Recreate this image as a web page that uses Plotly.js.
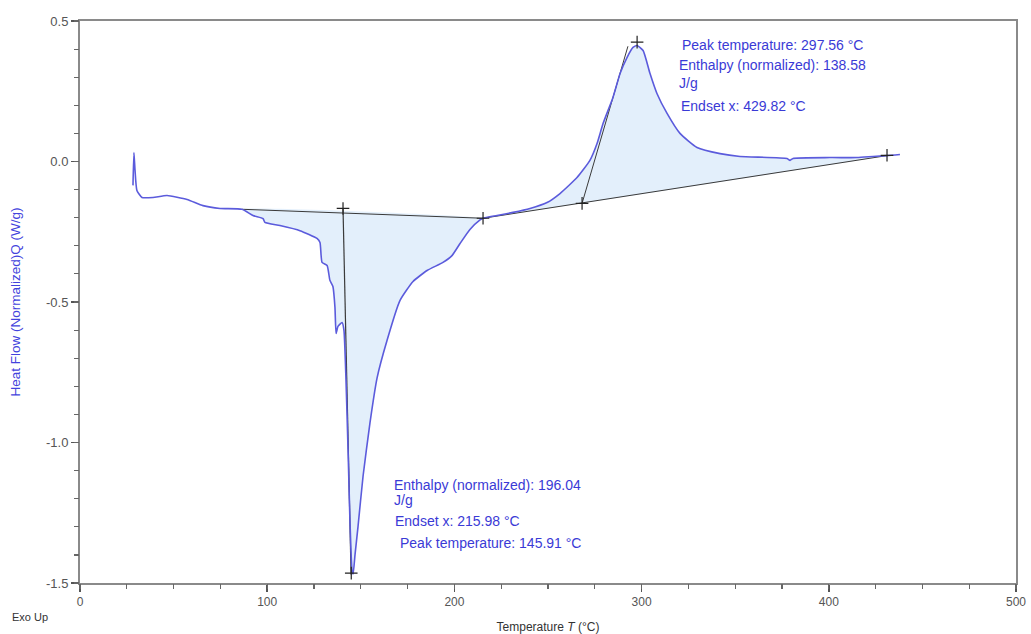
<!DOCTYPE html>
<html>
<head>
<meta charset="utf-8">
<script src="https://cdn.plot.ly/plotly-3.0.1.min.js"></script>
<style>html,body{margin:0;padding:0;background:#fff;}#chart{width:1031px;height:634px;}</style>
</head>
<body>
<div id="chart"></div>
<script>
// DSC curve: temperature (°C) and normalized heat flow (W/g)
const temperature = [28.3, 28.8, 29.4, 30.4, 33.1, 39.0, 46.5, 57.2, 65.7, 74.8, 86.5, 92.4, 97.8, 98.8, 106.8, 117.5, 126.6, 128.2, 129.3, 132.0, 133.5, 135.1, 136.2, 136.8, 137.8, 140.0, 141.0, 142.1, 143.2, 144.2, 145.3, 145.9, 146.9, 148.5, 151.2, 154.9, 158.7, 164.0, 170.9, 177.9, 185.4, 193.9, 198.7, 203.0, 208.3, 213.7, 215.3, 222.8, 231.3, 240.4, 249.5, 256.4, 265.5, 272.4, 276.2, 279.4, 284.7, 288.5, 292.2, 295.4, 297.6, 300.8, 304.5, 308.2, 313.6, 320.5, 329.6, 341.9, 352.6, 377.7, 379.3, 380.9, 400.6, 415.1, 423.6, 431.1, 438.0];
const heatFlow = [-0.085, 0.032, -0.032, -0.103, -0.128, -0.128, -0.121, -0.135, -0.157, -0.167, -0.170, -0.192, -0.203, -0.217, -0.228, -0.246, -0.274, -0.288, -0.359, -0.370, -0.423, -0.445, -0.520, -0.612, -0.587, -0.573, -0.601, -0.779, -1.028, -1.278, -1.455, -1.468, -1.400, -1.300, -1.120, -0.930, -0.770, -0.637, -0.495, -0.427, -0.388, -0.359, -0.335, -0.292, -0.242, -0.208, -0.202, -0.192, -0.181, -0.167, -0.146, -0.114, -0.057, 0.004, 0.064, 0.135, 0.228, 0.313, 0.370, 0.406, 0.413, 0.395, 0.313, 0.242, 0.171, 0.100, 0.050, 0.028, 0.018, 0.011, 0.004, 0.011, 0.014, 0.014, 0.018, 0.021, 0.025];

// Integration baselines (start/end temperature and heat flow)
const endoBaselineT = [86.5, 215.3];
const endoBaselineQ = [-0.170, -0.202];
const exoBaselineT = [215.3, 431.1];
const exoBaselineQ = [-0.202, 0.021];

// Peak construction lines
const endoPeakLineT = [140.5, 144.8];
const endoPeakLineQ = [-0.167, -1.470];
const exoTangentT = [268.2, 292.7];
const exoTangentQ = [-0.149, 0.410];

// Cross markers
const markT = [140.5, 215.3, 268.2, 297.6, 431.1, 144.9];
const markQ = [-0.167, -0.202, -0.149, 0.425, 0.022, -1.465];

// Axis ticks
const xRange = [0, 500];
const yRange = [-1.5, 0.5];
const xTickVals = [0, 100, 200, 300, 400, 500];
const xTickLabels = ['0', '100', '200', '300', '400', '500'];
const yTickVals = [0.5, 0.0, -0.5, -1.0, -1.5];
const yTickLabels = ['0.5', '0.0', '-0.5', '-1.0', '-1.5'];
const xMinorStep = 25;
const yMinorStep = 0.1;

function region(t0, t1) {
  const xs = [], ys = [];
  for (let i = 0; i < temperature.length; i++) {
    if (temperature[i] >= t0 && temperature[i] <= t1) { xs.push(temperature[i]); ys.push(heatFlow[i]); }
  }
  xs.push(xs[0]); ys.push(ys[0]);
  return {xs, ys};
}
const endoR = region(endoBaselineT[0], endoBaselineT[1]);
const exoR = region(exoBaselineT[0], exoBaselineT[1]);

const fillColor = 'rgba(226,238,251,0.95)';
const curveColor = '#5b5bdc';
const textColor = '#3a3ad6';
const lineColor = '#3a3a3a';

const traces = [
  // invisible trace to host the minor-tick overlay axes
  {x: xRange, y: yRange, xaxis: 'x2', yaxis: 'y2', mode: 'markers', marker: {opacity: 0}, hoverinfo: 'skip'},
  {x: endoR.xs, y: endoR.ys, mode: 'lines', fill: 'toself', fillcolor: fillColor, line: {width: 0, shape: 'spline', smoothing: 0.5}, hoverinfo: 'skip'},
  {x: exoR.xs, y: exoR.ys, mode: 'lines', fill: 'toself', fillcolor: fillColor, line: {width: 0, shape: 'spline', smoothing: 0.5}, hoverinfo: 'skip'},
  {x: endoBaselineT, y: endoBaselineQ, mode: 'lines', line: {color: lineColor, width: 1}},
  {x: exoBaselineT, y: exoBaselineQ, mode: 'lines', line: {color: lineColor, width: 1}},
  {x: endoPeakLineT, y: endoPeakLineQ, mode: 'lines', line: {color: lineColor, width: 1.2}},
  {x: exoTangentT, y: exoTangentQ, mode: 'lines', line: {color: lineColor, width: 1}},
  {x: temperature, y: heatFlow, mode: 'lines', line: {color: curveColor, width: 1.6, shape: 'spline', smoothing: 0.5}},
  {x: markT, y: markQ, mode: 'markers', marker: {symbol: 'cross-thin', size: 9, line: {color: '#222', width: 1.2}}}
];

const annFont = {family: 'Liberation Sans, Arial, sans-serif', size: 14, color: textColor};
function ann(text, x, y) {
  return {text: text, x: x, y: y, xref: 'x', yref: 'y', xanchor: 'left', yanchor: 'middle', showarrow: false, font: annFont};
}

const layout = {
  width: 1031, height: 634,
  margin: {l: 80, r: 15, t: 21, b: 51},
  paper_bgcolor: '#fff', plot_bgcolor: '#fff',
  showlegend: false,
  font: {family: 'Liberation Sans, Arial, sans-serif', size: 12, color: '#555'},
  xaxis: {
    range: xRange, tickmode: 'array', tickvals: xTickVals, ticktext: xTickLabels,
    showgrid: false, zeroline: false, showline: true, mirror: true,
    linecolor: '#8a8a8a', linewidth: 2, ticks: 'outside', ticklen: 7, tickcolor: '#555', tickwidth: 1.5,
    tickfont: {size: 12, color: '#555'},
    title: {text: 'Temperature <i>T</i> (°C)', font: {size: 12, color: '#333'}, standoff: 15}
  },
  yaxis: {
    range: yRange, tickmode: 'array', tickvals: yTickVals, ticktext: yTickLabels,
    showgrid: false, zeroline: false, showline: true, mirror: true,
    linecolor: '#8a8a8a', linewidth: 2, ticks: 'outside', ticklen: 7, tickcolor: '#555', tickwidth: 1.5,
    tickfont: {size: 13, color: '#555'},
    title: {text: 'Heat Flow (Normalized)Q (W/g)', font: {size: 13.5, color: '#4343dd'}, standoff: 22}
  },
  xaxis2: {
    overlaying: 'x', anchor: 'y2', side: 'bottom', range: xRange, tickmode: 'linear', tick0: 0, dtick: xMinorStep,
    ticks: 'outside', ticklen: 5, tickcolor: '#666', tickwidth: 1.2,
    showticklabels: false, showgrid: false, zeroline: false, showline: false
  },
  yaxis2: {
    overlaying: 'y', anchor: 'x2', side: 'left', range: yRange, tickmode: 'linear', tick0: 0, dtick: yMinorStep,
    ticks: 'outside', ticklen: 5, tickcolor: '#666', tickwidth: 1.2,
    showticklabels: false, showgrid: false, zeroline: false, showline: false
  },
  annotations: [
    ann('Enthalpy (normalized): 196.04', 166.7, -1.153),
    ann('J/g', 166.7, -1.206),
    ann('Endset x: 215.98 °C', 167.2, -1.278),
    ann('Peak temperature: 145.91 °C', 169.9, -1.359),
    ann('Peak temperature: 297.56 °C', 320.5, 0.416),
    ann('Enthalpy (normalized): 138.58', 318.9, 0.342),
    ann('J/g', 318.9, 0.278),
    ann('Endset x: 429.82 °C', 320.0, 0.199),
    {text: 'Exo Up', xref: 'paper', yref: 'paper', x: -0.0748, y: -0.0605, xanchor: 'left', yanchor: 'middle', showarrow: false, font: {size: 11, color: '#333'}}
  ]
};

Plotly.newPlot('chart', traces, layout, {displayModeBar: false, staticPlot: true});
</script>
</body>
</html>
